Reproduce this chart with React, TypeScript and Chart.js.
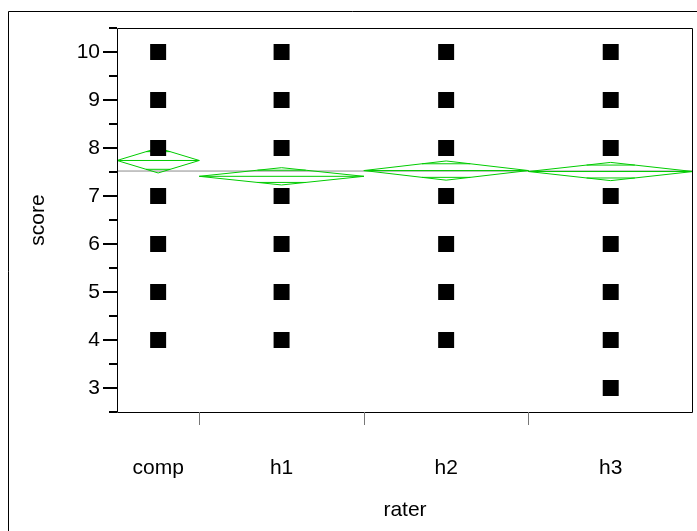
import React, { useEffect, useRef } from 'react';
import { Chart, registerables } from 'chart.js';

Chart.register(...registerables);

// ---- data ----
const raters = ['comp', 'h1', 'h2', 'h3'];
const groupWidths = [1, 2, 2, 2]; // relative group sizes (axis width of each level)
const compScores = [4, 5, 6, 7, 8, 9, 10];
const h1Scores = [4, 5, 6, 7, 8, 9, 10];
const h2Scores = [4, 5, 6, 7, 8, 9, 10];
const h3Scores = [3, 4, 5, 6, 7, 8, 9, 10];
const groupMeans = [7.74, 7.41, 7.53, 7.51];
const groupCI = [0.26, 0.18, 0.2, 0.19]; // half-height of the means diamonds
const grandMean = 7.52;
const yTicks = [3, 4, 5, 6, 7, 8, 9, 10];
const yMin = 2.5;
const yMax = 10.5;

const scoresByGroup = [compScores, h1Scores, h2Scores, h3Scores];

const GREEN = '#00cc00';
const FONT = 'Liberation Sans, Arial, Helvetica, sans-serif';

export default function App() {
  const ref = useRef<HTMLCanvasElement | null>(null);

  useEffect(() => {
    if (!ref.current) return;

    const starts: number[] = [];
    let acc = 0;
    groupWidths.forEach((w) => {
      starts.push(acc);
      acc += w;
    });
    const total = acc;
    const centers = starts.map((s, i) => s + groupWidths[i] / 2);

    const datasets: any[] = [];

    // points (first => drawn on top)
    scoresByGroup.forEach((vals, i) => {
      datasets.push({
        label: raters[i],
        data: vals.map((v) => ({ x: centers[i], y: v })),
        pointStyle: 'rect',
        pointRadius: 11.3,
        pointBackgroundColor: '#000',
        pointBorderWidth: 0,
        showLine: false,
      });
    });

    // means diamonds
    groupMeans.forEach((m, i) => {
      const s = starts[i];
      const e = starts[i] + groupWidths[i];
      const c = centers[i];
      const ci = groupCI[i];
      const lineDs = (data: any[]) => ({
        data,
        showLine: true,
        borderColor: GREEN,
        borderWidth: 1,
        pointRadius: 0,
        tension: 0,
      });
      datasets.push(
        lineDs([
          { x: s, y: m },
          { x: c, y: m + ci },
          { x: e, y: m },
          { x: c, y: m - ci },
          { x: s, y: m },
        ])
      );
      datasets.push(lineDs([{ x: s, y: m }, { x: e, y: m }]));
      const k = 1 / Math.SQRT2;
      const half = (groupWidths[i] / 2) * (1 - k);
      datasets.push(lineDs([{ x: c - half, y: m + ci * k }, { x: c + half, y: m + ci * k }]));
      datasets.push(lineDs([{ x: c - half, y: m - ci * k }, { x: c + half, y: m - ci * k }]));
    });

    // grand mean
    datasets.push({
      data: [
        { x: 0, y: grandMean },
        { x: total, y: grandMean },
      ],
      showLine: true,
      borderColor: '#8c8c8c',
      borderWidth: 1,
      pointRadius: 0,
    });

    const framePlugin = {
      id: 'frame',
      afterDraw(chart: any) {
        const { ctx, chartArea: a, scales } = chart;
        const y = scales.y;
        const x = scales.x;
        ctx.save();
        // outer frame
        ctx.strokeStyle = '#000';
        ctx.lineWidth = 1;
        ctx.beginPath();
        ctx.moveTo(8.5, 531);
        ctx.lineTo(8.5, 11.5);
        ctx.lineTo(697, 11.5);
        ctx.stroke();
        // plot box
        ctx.beginPath();
        ctx.rect(a.left + 0.5, a.top + 0.5, a.right - a.left - 1, a.bottom - a.top);
        ctx.stroke();
        // y major ticks
        ctx.lineWidth = 2;
        yTicks.forEach((v) => {
          const py = Math.round(y.getPixelForValue(v));
          ctx.beginPath();
          ctx.moveTo(a.left - 14, py);
          ctx.lineTo(a.left, py);
          ctx.stroke();
        });
        // y minor ticks (half-way)
        const minors = [yTicks[0] - 0.5, ...yTicks.map((v) => v + 0.5)];
        minors.forEach((v) => {
          const py = Math.round(y.getPixelForValue(v));
          ctx.beginPath();
          ctx.moveTo(a.left - 8, py);
          ctx.lineTo(a.left, py);
          ctx.stroke();
        });
        // x level boundaries
        ctx.strokeStyle = '#777';
        ctx.lineWidth = 1;
        starts.slice(1).forEach((s) => {
          const px = Math.round(x.getPixelForValue(s)) + 0.5;
          ctx.beginPath();
          ctx.moveTo(px, a.bottom);
          ctx.lineTo(px, a.bottom + 13);
          ctx.stroke();
        });
        ctx.restore();
      },
    };

    const chart = new Chart(ref.current, {
      type: 'scatter',
      data: { datasets },
      plugins: [framePlugin],
      options: {
        responsive: false,
        animation: false,
        devicePixelRatio: 1,
        layout: { autoPadding: false, padding: { left: 8, top: 28, right: 4, bottom: 0 } },
        plugins: {
          legend: { display: false },
          tooltip: { enabled: false },
        },
        scales: {
          x: {
            type: 'linear',
            min: 0,
            max: total,
            grid: { display: false, drawTicks: false },
            border: { display: false },
            afterBuildTicks: (s: any) => {
              s.ticks = centers.map((v) => ({ value: v }));
            },
            afterFit: (s: any) => {
              s.height = 119;
              s.paddingLeft = 0;
              s.paddingRight = 0;
            },
            ticks: {
              autoSkip: false,
              maxRotation: 0,
              padding: 44,
              color: '#000',
              font: { family: FONT, size: 21 },
              callback: (_v: any, i: number) => raters[i],
            },
            title: {
              display: true,
              text: 'rater',
              color: '#000',
              font: { family: FONT, size: 21 },
              padding: { top: 0, bottom: 8 },
            },
          },
          y: {
            type: 'linear',
            min: yMin,
            max: yMax,
            grid: { display: false, drawTicks: false },
            border: { display: false },
            afterBuildTicks: (s: any) => {
              s.ticks = yTicks.map((v) => ({ value: v }));
            },
            afterFit: (s: any) => {
              s.width = 109;
              s.paddingTop = 0;
              s.paddingBottom = 0;
            },
            ticks: {
              padding: 17,
              color: '#000',
              font: { family: FONT, size: 21 },
              callback: (v: any) => String(v),
            },
            title: {
              display: true,
              text: 'score',
              color: '#000',
              font: { family: FONT, size: 21 },
              padding: { top: 18, bottom: 0 },
            },
          },
        },
      },
    });

    return () => chart.destroy();
  }, []);

  return (
    <div style={{ position: 'absolute', left: 0, top: 0, width: 697, height: 531, background: '#fff' }}>
      <canvas ref={ref} width={697} height={531} style={{ display: 'block', width: 697, height: 531 }} />
    </div>
  );
}
